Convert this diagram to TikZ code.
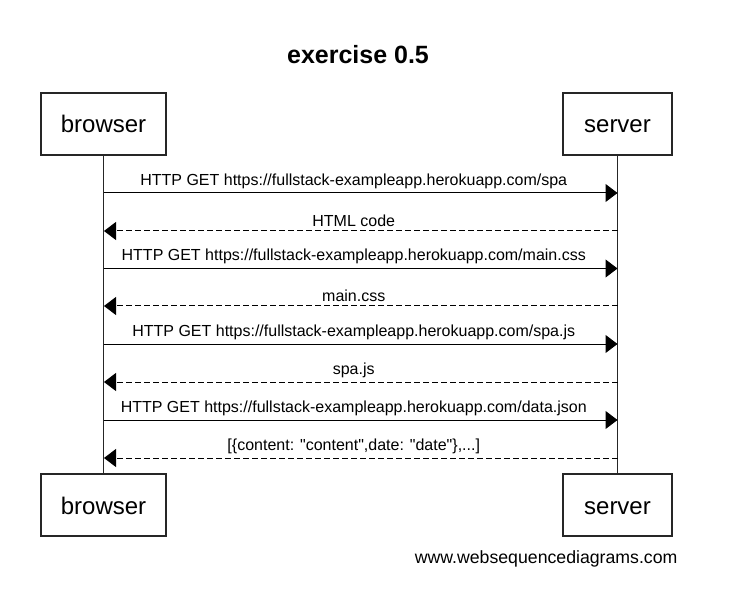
\documentclass[tikz,border=0pt]{standalone}
\usepackage{fontspec}
\setmainfont{Liberation Sans}
\newfontfamily\rawsans{Liberation Sans}[Ligatures=ResetAll]
\usetikzlibrary{arrows.meta}
\begin{document}
\begin{tikzpicture}[x=1pt,y=-1pt,
  actor/.style={draw=black!85,line width=1.1pt,minimum width=125pt,minimum height=62pt,inner sep=0pt,text height=20pt,text depth=2pt,font=\fontsize{24}{28}\selectfont},
  srvactor/.style={actor,minimum width=109pt},
  life/.style={draw=black!85,line width=1.1pt},
  msg/.style={draw=black,line width=1pt,-{Triangle[length=12pt,width=18pt]}},
  ret/.style={msg,dash pattern=on 6pt off 3pt},
  lbl/.style={font=\fontsize{16}{19}\selectfont,inner sep=0pt,anchor=base,xshift=-7pt}]
\useasboundingbox (0,0) rectangle (732,615);
\node[font=\bfseries\fontsize{25}{30}\selectfont] (title) at (358,55) {exercise 0.5};
\node[actor] (bt) at (103.5,124) {browser};
\node[srvactor] (st) at (617.5,124) {server};
\node[actor] (bb) at (103.5,505) {browser};
\node[srvactor] (sb) at (617.5,505) {server};
\draw[life] (bt.south) -- (bb.north);
\draw[life] (st.south) -- (sb.north);
% message coordinates
\foreach \n/\y in {1/193,2/231,3/268.5,4/306,5/344,6/382,7/420,8/458}{
  \coordinate (b\n) at (104,\y);
  \coordinate (s\n) at (617.5,\y);
}
\draw[msg] (b1) -- node[lbl,above=4pt] (l1) {HTTP GET https://fullstack-exampleapp.herokuapp.com/spa} (s1);
\draw[ret] (s2) -- node[lbl,above=4pt] (l2) {HTML code} (b2);
\draw[msg] (b3) -- node[lbl,above=4pt] (l3) {HTTP GET https://fullstack-exampleapp.herokuapp.com/main.css} (s3);
\draw[ret] (s4) -- node[lbl,above=4pt] (l4) {main.css} (b4);
\draw[msg] (b5) -- node[lbl,above=4pt] (l5) {HTTP GET https://fullstack-exampleapp.herokuapp.com/spa.js} (s5);
\draw[ret] (s6) -- node[lbl,above=4pt] (l6) {spa.js} (b6);
\draw[msg] (b7) -- node[lbl,above=4pt] (l7) {HTTP GET https://fullstack-exampleapp.herokuapp.com/data.json} (s7);
\draw[ret] (s8) -- node[lbl,above=4pt] (l8) {\rawsans [\{content: "content",date: "date"\},...]} (b8);
\node[font=\fontsize{17.7}{20}\selectfont,anchor=east] (foot) at (681,559) {www.websequencediagrams.com};
\end{tikzpicture}
\end{document}
